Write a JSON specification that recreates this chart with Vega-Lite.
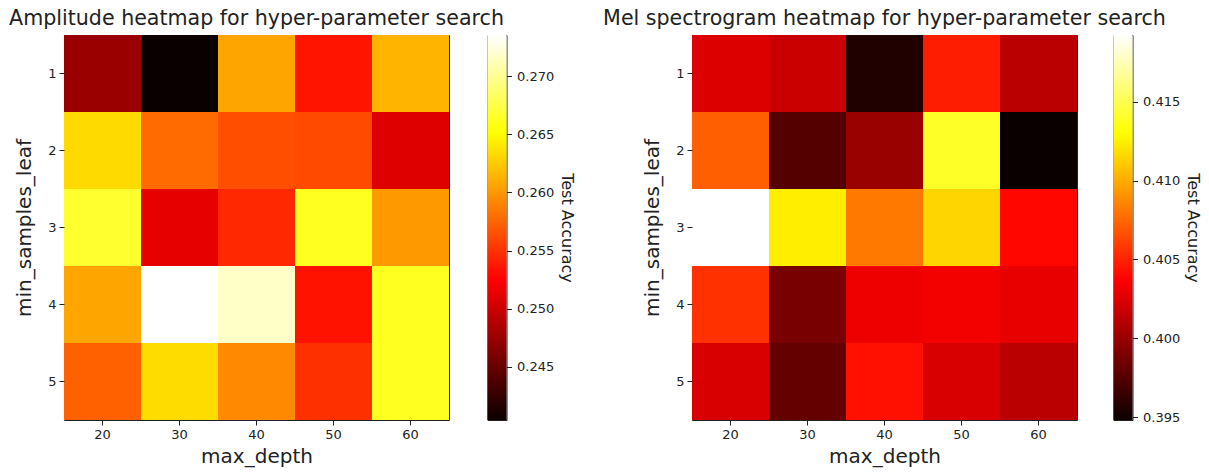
{
  "$schema": "https://vega.github.io/schema/vega-lite/v6.json",
  "padding": {"left": 8, "top": 8, "right": 5, "bottom": 5},
  "background": "white",
  "config": {
    "font": "DejaVu Sans",
    "view": {"stroke": "#222", "strokeWidth": 1},
    "axis": {"labelFont": "DejaVu Sans", "titleFont": "DejaVu Sans", "labelFontSize": 13, "labelColor": "#222", "tickColor": "#222", "tickSize": 5, "domain": false, "grid": false, "titleFontWeight": "normal", "titleColor": "#222", "labelPadding": 3},
    "title": {"font": "DejaVu Sans", "fontSize": 20.6, "fontWeight": "normal", "color": "#222", "baseline": "alphabetic", "offset": 5, "anchor": "middle"}
  },
  "datasets": {
    "amp": [
      {"max_depth": 20, "min_samples_leaf": 1, "acc": 0.2475},
      {"max_depth": 30, "min_samples_leaf": 1, "acc": 0.24042},
      {"max_depth": 40, "min_samples_leaf": 1, "acc": 0.2607},
      {"max_depth": 50, "min_samples_leaf": 1, "acc": 0.2535},
      {"max_depth": 60, "min_samples_leaf": 1, "acc": 0.2614},
      {"max_depth": 20, "min_samples_leaf": 2, "acc": 0.2633},
      {"max_depth": 30, "min_samples_leaf": 2, "acc": 0.2578},
      {"max_depth": 40, "min_samples_leaf": 2, "acc": 0.2564},
      {"max_depth": 50, "min_samples_leaf": 2, "acc": 0.2562},
      {"max_depth": 60, "min_samples_leaf": 2, "acc": 0.2509},
      {"max_depth": 20, "min_samples_leaf": 3, "acc": 0.2667},
      {"max_depth": 30, "min_samples_leaf": 3, "acc": 0.2513},
      {"max_depth": 40, "min_samples_leaf": 3, "acc": 0.2545},
      {"max_depth": 50, "min_samples_leaf": 3, "acc": 0.2662},
      {"max_depth": 60, "min_samples_leaf": 3, "acc": 0.2601},
      {"max_depth": 20, "min_samples_leaf": 4, "acc": 0.2607},
      {"max_depth": 30, "min_samples_leaf": 4, "acc": 0.27355},
      {"max_depth": 40, "min_samples_leaf": 4, "acc": 0.2717},
      {"max_depth": 50, "min_samples_leaf": 4, "acc": 0.2534},
      {"max_depth": 60, "min_samples_leaf": 4, "acc": 0.2662},
      {"max_depth": 20, "min_samples_leaf": 5, "acc": 0.2573},
      {"max_depth": 30, "min_samples_leaf": 5, "acc": 0.2634},
      {"max_depth": 40, "min_samples_leaf": 5, "acc": 0.2593},
      {"max_depth": 50, "min_samples_leaf": 5, "acc": 0.2549},
      {"max_depth": 60, "min_samples_leaf": 5, "acc": 0.2662}
    ],
    "mel": [
      {"max_depth": 20, "min_samples_leaf": 1, "acc": 0.4025},
      {"max_depth": 30, "min_samples_leaf": 1, "acc": 0.4018},
      {"max_depth": 40, "min_samples_leaf": 1, "acc": 0.3956},
      {"max_depth": 50, "min_samples_leaf": 1, "acc": 0.4048},
      {"max_depth": 60, "min_samples_leaf": 1, "acc": 0.4012},
      {"max_depth": 20, "min_samples_leaf": 2, "acc": 0.4072},
      {"max_depth": 30, "min_samples_leaf": 2, "acc": 0.3975},
      {"max_depth": 40, "min_samples_leaf": 2, "acc": 0.4},
      {"max_depth": 50, "min_samples_leaf": 2, "acc": 0.414},
      {"max_depth": 60, "min_samples_leaf": 2, "acc": 0.39481},
      {"max_depth": 20, "min_samples_leaf": 3, "acc": 0.41924},
      {"max_depth": 30, "min_samples_leaf": 3, "acc": 0.4124},
      {"max_depth": 40, "min_samples_leaf": 3, "acc": 0.4081},
      {"max_depth": 50, "min_samples_leaf": 3, "acc": 0.4115},
      {"max_depth": 60, "min_samples_leaf": 3, "acc": 0.404},
      {"max_depth": 20, "min_samples_leaf": 4, "acc": 0.4055},
      {"max_depth": 30, "min_samples_leaf": 4, "acc": 0.3988},
      {"max_depth": 40, "min_samples_leaf": 4, "acc": 0.4031},
      {"max_depth": 50, "min_samples_leaf": 4, "acc": 0.4033},
      {"max_depth": 60, "min_samples_leaf": 4, "acc": 0.4029},
      {"max_depth": 20, "min_samples_leaf": 5, "acc": 0.4023},
      {"max_depth": 30, "min_samples_leaf": 5, "acc": 0.3981},
      {"max_depth": 40, "min_samples_leaf": 5, "acc": 0.4043},
      {"max_depth": 50, "min_samples_leaf": 5, "acc": 0.4023},
      {"max_depth": 60, "min_samples_leaf": 5, "acc": 0.4012}
    ],
    "ampbar": [{"lo": 0.24042, "hi": 0.27355, "x0": 0, "x1": 1}],
    "melbar": [{"lo": 0.39481, "hi": 0.41924, "x0": 0, "x1": 1}]
  },
  "spacing": 26,
  "resolve": {"scale": {"color": "independent", "x": "independent", "y": "independent"}},
  "hconcat": [
    {
      "bounds": "flush",
      "spacing": 38.5,
      "resolve": {"scale": {"color": "independent", "x": "independent", "y": "independent"}},
      "hconcat": [
        {
          "title": "Amplitude heatmap for hyper-parameter search",
          "width": 385, "height": 385,
          "data": {"name": "amp"},
          "mark": {"type": "rect"},
          "encoding": {
            "x": {"field": "max_depth", "type": "ordinal", "scale": {"paddingInner": 0, "paddingOuter": 0}, "axis": {"labelAngle": 0, "title": "max_depth", "titleFontSize": 20, "titlePadding": 5}},
            "y": {"field": "min_samples_leaf", "type": "ordinal", "scale": {"paddingInner": 0, "paddingOuter": 0}, "axis": {"title": "min_samples_leaf", "titleFontSize": 20, "titlePadding": 13}},
            "color": {"field": "acc", "type": "quantitative", "scale": {"domain": [0.24042, 0.252515, 0.265136, 0.27355], "range": ["#0b0000", "#ff0000", "#ffff00", "#ffffff"], "interpolate": "rgb", "clamp": true}, "legend": null}
          }
        },
        {
          "width": 19, "height": 385,
          "data": {"name": "ampbar"},
          "mark": {"type": "rect", "fill": {"gradient": "linear", "x1": 0, "y1": 1, "x2": 0, "y2": 0, "stops": [{"offset": 0, "color": "#0b0000"}, {"offset": 0.365079, "color": "#ff0000"}, {"offset": 0.746032, "color": "#ffff00"}, {"offset": 1, "color": "#ffffff"}]}},
          "encoding": {
            "x": {"field": "x0", "type": "quantitative", "scale": {"domain": [0, 1]}, "axis": null},
            "x2": {"field": "x1"},
            "y": {"field": "lo", "type": "quantitative", "scale": {"domain": [0.24042, 0.27355], "nice": false, "zero": false}, "axis": {"orient": "right", "values": [0.245, 0.25, 0.255, 0.26, 0.265, 0.27], "format": ".3f", "title": "Test Accuracy", "titleAngle": 90, "titleFontSize": 16, "labelFlush": false, "labelOverlap": false, "labelPadding": 5, "titlePadding": 5}},
            "y2": {"field": "hi"}
          }
        }
      ]
    },
    {
      "bounds": "flush",
      "spacing": 36.5,
      "resolve": {"scale": {"color": "independent", "x": "independent", "y": "independent"}},
      "hconcat": [
        {
          "title": "Mel spectrogram heatmap for hyper-parameter search",
          "width": 385, "height": 385,
          "data": {"name": "mel"},
          "mark": {"type": "rect"},
          "encoding": {
            "x": {"field": "max_depth", "type": "ordinal", "scale": {"paddingInner": 0, "paddingOuter": 0}, "axis": {"labelAngle": 0, "title": "max_depth", "titleFontSize": 20, "titlePadding": 5}},
            "y": {"field": "min_samples_leaf", "type": "ordinal", "scale": {"paddingInner": 0, "paddingOuter": 0}, "axis": {"title": "min_samples_leaf", "titleFontSize": 20, "titlePadding": 13}},
            "color": {"field": "acc", "type": "quantitative", "scale": {"domain": [0.39481, 0.403729, 0.413036, 0.41924], "range": ["#0b0000", "#ff0000", "#ffff00", "#ffffff"], "interpolate": "rgb", "clamp": true}, "legend": null}
          }
        },
        {
          "width": 19, "height": 385,
          "data": {"name": "melbar"},
          "mark": {"type": "rect", "fill": {"gradient": "linear", "x1": 0, "y1": 1, "x2": 0, "y2": 0, "stops": [{"offset": 0, "color": "#0b0000"}, {"offset": 0.365079, "color": "#ff0000"}, {"offset": 0.746032, "color": "#ffff00"}, {"offset": 1, "color": "#ffffff"}]}},
          "encoding": {
            "x": {"field": "x0", "type": "quantitative", "scale": {"domain": [0, 1]}, "axis": null},
            "x2": {"field": "x1"},
            "y": {"field": "lo", "type": "quantitative", "scale": {"domain": [0.39481, 0.41924], "nice": false, "zero": false}, "axis": {"orient": "right", "values": [0.395, 0.4, 0.405, 0.41, 0.415], "format": ".3f", "title": "Test Accuracy", "titleAngle": 90, "titleFontSize": 16, "labelFlush": false, "labelOverlap": false, "labelPadding": 5, "titlePadding": 5}},
            "y2": {"field": "hi"}
          }
        }
      ]
    }
  ]
}
